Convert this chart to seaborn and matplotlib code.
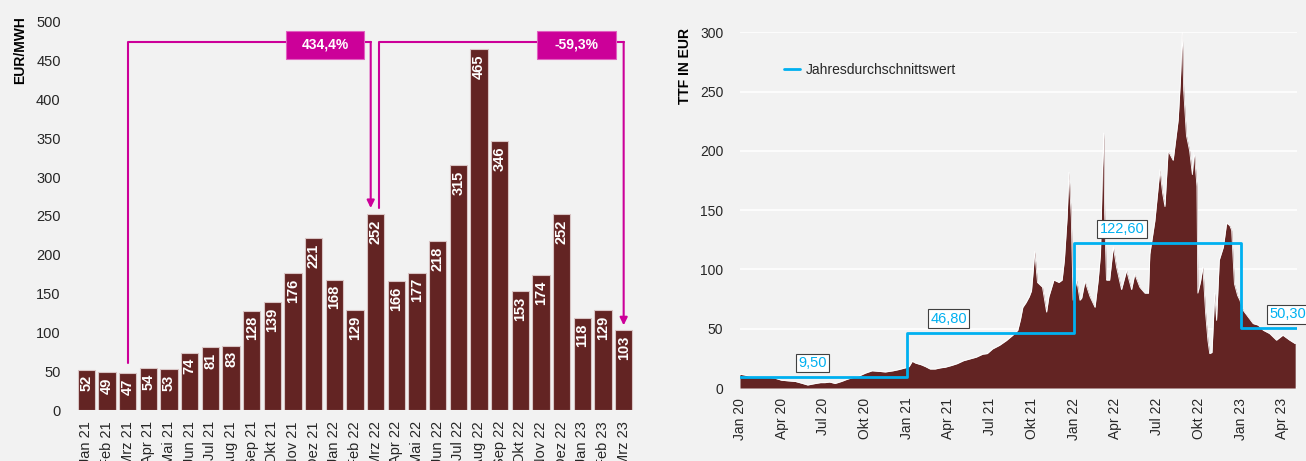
"""
Two-panel gas price chart: monthly bars (EUR/MWh) and daily TTF area with yearly averages.
Saves out.png
"""

import pandas as pd
import matplotlib
matplotlib.use("Agg")
import matplotlib.pyplot as plt
import seaborn as sns

# ── Data: monthly prices (left panel) ─────────────────────────────────────────

months = ["Jan 21", "Feb 21", "Mrz 21", "Apr 21", "Mai 21", "Jun 21", "Jul 21",
          "Aug 21", "Sep 21", "Okt 21", "Nov 21", "Dez 21", "Jan 22", "Feb 22",
          "Mrz 22", "Apr 22", "Mai 22", "Jun 22", "Jul 22", "Aug 22", "Sep 22",
          "Okt 22", "Nov 22", "Dez 22", "Jan 23", "Feb 23", "Mrz 23"]
month_prices = [52, 49, 47, 54, 53, 74, 81, 83, 128, 139, 176, 221, 168, 129,
                252, 166, 177, 218, 315, 465, 346, 153, 174, 252, 118, 129, 103]

change_labels = ["434,4%", "-59,3%"]

# ── Data: TTF prices ──────────────────────────────────────────────────────────

ttf_dates = [
    "2020-01-01", "2020-01-10", "2020-01-20", "2020-02-01", "2020-02-15", "2020-03-01",
    "2020-03-15", "2020-04-01", "2020-04-15", "2020-05-01", "2020-05-15", "2020-05-28",
    "2020-06-10", "2020-06-25", "2020-07-05", "2020-07-15", "2020-07-27", "2020-08-10",
    "2020-08-20", "2020-09-01", "2020-09-17", "2020-10-01", "2020-10-16", "2020-11-01",
    "2020-11-14", "2020-12-01", "2020-12-13", "2020-12-28",
    "2021-01-05", "2021-01-12", "2021-01-19", "2021-02-01", "2021-02-10", "2021-02-20",
    "2021-03-03", "2021-03-15", "2021-03-25", "2021-04-08", "2021-04-20", "2021-05-04",
    "2021-05-18", "2021-06-01", "2021-06-15", "2021-06-25", "2021-07-07", "2021-07-22",
    "2021-08-06", "2021-08-20", "2021-08-31", "2021-09-06", "2021-09-11", "2021-09-18",
    "2021-09-25", "2021-09-30", "2021-10-04", "2021-10-07", "2021-10-13", "2021-10-24",
    "2021-11-02", "2021-11-07", "2021-11-18", "2021-11-29", "2021-12-06", "2021-12-11",
    "2021-12-17", "2021-12-21", "2021-12-26", "2021-12-30",
    "2022-01-07", "2022-01-14", "2022-01-18", "2022-01-25", "2022-02-05", "2022-02-16",
    "2022-02-23", "2022-02-28", "2022-03-04", "2022-03-07", "2022-03-09", "2022-03-13",
    "2022-03-20", "2022-03-28", "2022-04-04", "2022-04-15", "2022-04-26", "2022-05-07",
    "2022-05-14", "2022-05-25", "2022-06-05", "2022-06-13", "2022-06-16", "2022-06-27",
    "2022-07-08", "2022-07-14", "2022-07-19", "2022-07-26", "2022-08-06", "2022-08-17",
    "2022-08-22", "2022-08-26", "2022-08-29", "2022-09-04", "2022-09-11", "2022-09-17",
    "2022-09-21", "2022-09-27", "2022-09-29", "2022-10-05", "2022-10-10", "2022-10-16",
    "2022-10-21", "2022-10-25", "2022-10-30", "2022-11-05", "2022-11-09", "2022-11-15",
    "2022-11-24", "2022-12-01", "2022-12-08", "2022-12-12", "2022-12-15", "2022-12-18",
    "2022-12-25", "2022-12-30",
    "2023-01-06", "2023-01-17", "2023-01-28", "2023-02-08", "2023-02-19", "2023-03-05",
    "2023-03-20", "2023-04-03", "2023-04-18", "2023-04-30",
]
ttf_prices = [
    11.5, 11, 10, 9.5, 9, 9,
    8.5, 6.5, 6, 5.5, 4, 2.5,
    3.5, 4.5, 4.5, 5, 3.8, 5.5,
    7, 8.5, 10, 12.5, 14.5, 14,
    13.5, 14.5, 15.5, 17,
    18, 22.5, 21, 19.5, 18, 16,
    16, 17, 17.5, 19, 20.5, 23,
    24.5, 26, 28.5, 29, 33, 36,
    40, 44.5, 48.7, 58, 68, 72,
    77, 82, 100, 115, 89, 85,
    64, 77, 91, 89, 91, 108,
    144, 182, 144, 74,
    91, 74, 76, 90, 77, 68,
    91, 113, 180, 215, 147, 91,
    91, 119, 102, 83, 99, 83,
    96, 85, 80, 80, 113, 141,
    184, 164, 153, 200, 192, 226,
    260, 300, 251, 213, 200, 180,
    200, 170, 80, 90, 102, 63,
    40, 29, 30, 80, 57, 108,
    119, 139, 137, 133, 110, 88,
    78, 74,
    65.6, 60, 54.3, 53, 48.7, 45.9,
    40.3, 44.5, 40.3, 37.4,
]

avg_year_starts = ["2020-01-01", "2021-01-01", "2022-01-01", "2023-01-01"]
avg_values = [9.5, 46.8, 122.6, 50.3]
avg_labels = ["9,50", "46,80", "122,60", "50,30"]

tick_dates = ["2020-01-01", "2020-04-01", "2020-07-01", "2020-10-01",
              "2021-01-01", "2021-04-01", "2021-07-01", "2021-10-01",
              "2022-01-01", "2022-04-01", "2022-07-01", "2022-10-01",
              "2023-01-01", "2023-04-01"]
tick_labels = ["Jan 20", "Apr 20", "Jul 20", "Okt 20", "Jan 21", "Apr 21", "Jul 21",
               "Okt 21", "Jan 22", "Apr 22", "Jul 22", "Okt 22", "Jan 23", "Apr 23"]

# ── Style ─────────────────────────────────────────────────────────────────────

BG = "#f2f2f2"
BAR = "#632423"
MAGENTA = "#cc0099"
BLUE = "#00b0f0"

sns.set_theme(style="white")
plt.rcParams["font.family"] = ["Liberation Sans", "DejaVu Sans"]
plt.rcParams["font.size"] = 10

fig = plt.figure(figsize=(13.06, 4.61), dpi=100, facecolor=BG)
W, H = 1306, 461


def px_axes(x0, x1, y_top, y_bottom):
    return fig.add_axes([x0 / W, 1 - y_bottom / H, (x1 - x0) / W, (y_bottom - y_top) / H])


# ── Left: monthly bars ────────────────────────────────────────────────────────

ax1 = px_axes(76, 634, 21.7, 410)
ax1.set_facecolor(BG)
df_bar = pd.DataFrame({"month": months, "price": month_prices})
sns.barplot(data=df_bar, x="month", y="price", color=BAR, saturation=1,
            width=0.83, edgecolor="#d8c4c4", linewidth=0.8, ax=ax1)
ax1.set_ylim(0, 500)
ax1.set_xlim(-0.5, len(months) - 0.5)
ax1.set_yticks(range(0, 501, 50))
ax1.set_xlabel("")
ax1.set_ylabel("")
ax1.tick_params(axis="y", length=0, pad=11, labelsize=10.5)
ax1.tick_params(axis="x", length=0, pad=8, labelsize=10.5, labelrotation=90)
sns.despine(ax=ax1, left=True, bottom=True)

for i, v in enumerate(month_prices):
    ax1.annotate(str(v), xy=(i, v), xytext=(0, -4), textcoords="offset points",
                 rotation=90, ha="center", va="top", color="white",
                 fontsize=10.5, fontweight="bold")

fig.text(20 / W, 1 - 50 / H, "EUR/MWH", rotation=90, ha="center", va="center",
         fontsize=10, fontweight="bold", color="black")

# change brackets
line_y = 474
arrow_kw = dict(arrowstyle="-|>,head_length=0.45,head_width=0.22", color=MAGENTA,
                lw=1.5, shrinkA=0, shrinkB=0)
ax1.plot([2, 2, 9.66], [60, line_y, line_y], color=MAGENTA, lw=1.5)
ax1.plot([13.44, 13.76], [line_y, line_y], color=MAGENTA, lw=1.5)
ax1.annotate("", xy=(13.76, 260), xytext=(13.76, line_y), arrowprops=arrow_kw)
ax1.plot([14.18, 14.18, 21.83], [260, line_y, line_y], color=MAGENTA, lw=1.5)
ax1.plot([25.64, 26], [line_y, line_y], color=MAGENTA, lw=1.5)
ax1.annotate("", xy=(26, 109), xytext=(26, line_y), arrowprops=arrow_kw)

for (x0, x1), label in zip([(9.66, 13.44), (21.83, 25.64)], change_labels):
    ax1.add_patch(plt.Rectangle((x0, 452), x1 - x0, 36, facecolor=MAGENTA,
                                edgecolor="#e060c0", lw=0.8, clip_on=False, zorder=5))
    ax1.text((x0 + x1) / 2, 470, label, ha="center", va="center", color="white",
             fontsize=10, fontweight="bold", zorder=6)

# ── Right: TTF daily prices ───────────────────────────────────────────────────

ax2 = px_axes(740, 1297, 32.3, 388)
ax2.set_facecolor(BG)
df_ttf = pd.DataFrame({"date": pd.to_datetime(ttf_dates), "price": ttf_prices})
x_end = pd.Timestamp("2023-05-04")

ax2.fill_between(df_ttf["date"], 0, df_ttf["price"], color=BAR, lw=0, zorder=2)
sns.lineplot(data=df_ttf, x="date", y="price", color="white", lw=0.6, ax=ax2, zorder=3)

step_x = list(pd.to_datetime(avg_year_starts)) + [x_end]
step_y = avg_values + [avg_values[-1]]
ax2.plot(step_x, step_y, drawstyle="steps-post", color=BLUE, lw=2, zorder=4,
         label="Jahresdurchschnittswert")

label_pos = ["2020-06-07", "2021-04-02", "2022-04-16", "2023-04-14"]
for d, v, txt in zip(label_pos, avg_values, avg_labels):
    ax2.annotate(txt, xy=(pd.Timestamp(d), v), xytext=(0, 5), textcoords="offset points",
                 ha="center", va="bottom", color=BLUE, fontsize=10.5, zorder=6,
                 annotation_clip=False,
                 bbox=dict(boxstyle="square,pad=0.15", facecolor="white",
                           edgecolor="#404040", lw=0.8))

ax2.set_xlim(pd.Timestamp("2020-01-01"), x_end)
ax2.set_ylim(0, 300)
ax2.set_yticks(range(0, 301, 50))
ax2.set_xticks(pd.to_datetime(tick_dates))
ax2.set_xticklabels(tick_labels, rotation=90)
ax2.grid(axis="y", color="white", lw=1.2, zorder=1)
ax2.set_axisbelow(True)
ax2.set_xlabel("")
ax2.set_ylabel("")
ax2.tick_params(axis="y", length=0, pad=12, labelsize=10)
ax2.tick_params(axis="x", length=0, pad=7, labelsize=10)
sns.despine(ax=ax2, left=True, bottom=True)

ax2.legend(loc="upper left", bbox_to_anchor=(0.056, 0.95), frameon=False,
           handlelength=1.2, handletextpad=0.4, fontsize=10)

fig.text(685 / W, 1 - 66 / H, "TTF IN EUR", rotation=90, ha="center", va="center",
         fontsize=10, fontweight="bold", color="black")

fig.savefig("out.png", dpi=100, facecolor=BG)
plt.close(fig)
